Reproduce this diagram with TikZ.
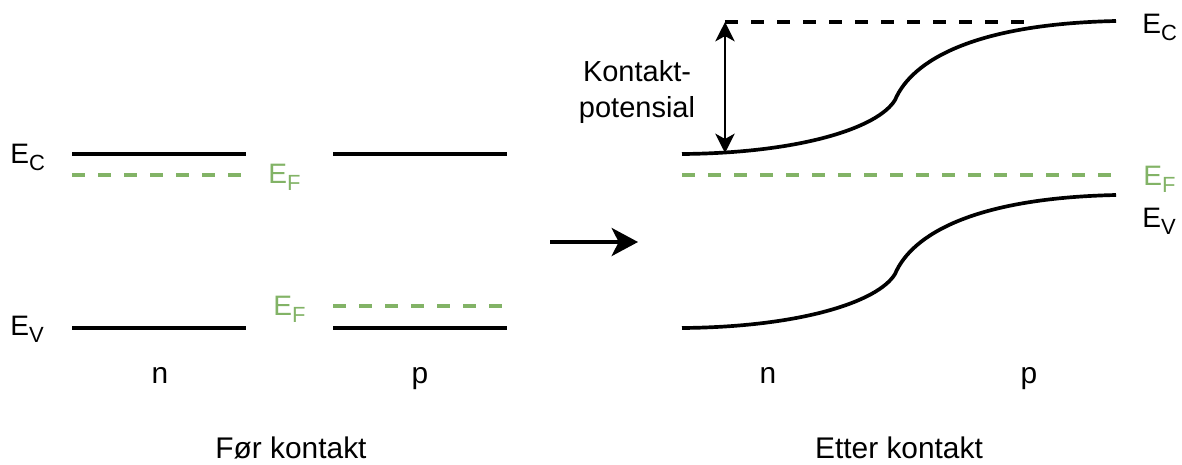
\documentclass[tikz,border=0pt]{standalone}
\usepackage{fontspec}
\setmainfont{Liberation Sans}
\usetikzlibrary{arrows.meta}

\definecolor{fermi}{HTML}{82B366}
\newcommand{\lev}[1]{E\raisebox{-4pt}{\fontsize{12.5}{13}\selectfont #1}}

\begin{document}
\begin{tikzpicture}[x=0.02cm, y=-0.02cm,
    band/.style={line width=2.1pt},
    fermiline/.style={line width=2pt, fermi, dash pattern=on 7.4pt off 7.4pt},
    lvl/.style={inner sep=0pt, anchor=base west, font=\fontsize{16}{19}\selectfont},
    lbl/.style={inner sep=0pt, anchor=base, font=\fontsize{17}{20}\selectfont}]
    \useasboundingbox (0,0) rectangle (1182,464);

    % Before contact: n side
    \draw[band] (72,154) -- (246,154);
    \draw[fermiline] (72,175) -- (246,175);
    \draw[band] (72,328) -- (246,328);
    \node[lvl] (ecL) at (10,163) {\lev{C}};
    \node[lvl] (evL) at (10,335) {\lev{V}};
    \node[lvl, fermi] (efN) at (268,183) {\lev{F}};

    % Before contact: p side
    \draw[band] (333,154) -- (507,154);
    \draw[fermiline] (333,306) -- (507,306);
    \draw[band] (333,328) -- (507,328);
    \node[lvl, fermi] (efP) at (273,315) {\lev{F}};

    \node[lbl] (nL) at (160,383) {n};
    \node[lbl] (pL) at (420,383) {p};
    \node[lbl] (before) at (291,458) {Før kontakt};

    % Transition arrow
    \coordinate (arrS) at (550,242);
    \coordinate (arrE) at (638,242);
    \draw[line width=2pt, -{Stealth[length=15pt, width=16pt, inset=4pt]}] (arrS) -- (arrE);

    % After contact: bent bands
    \draw[band] (682,154) .. controls (800,153) and (878,128) .. (895,100)
        .. controls (912,60) and (975,24) .. (1116,21);
    \draw[band, shift={(0,174)}] (682,154) .. controls (800,153) and (878,128) .. (895,100)
        .. controls (912,60) and (975,24) .. (1116,21);
    \draw[fermiline] (682,175) -- (1112,175);

    % Contact potential
    \coordinate (vTop) at (725,22);
    \coordinate (vBot) at (725,153);
    \draw[line width=2pt, dash pattern=on 7.4pt off 7.4pt] (vTop) -- (1030,22);
    \draw[line width=1.4pt, {Stealth[length=11pt, width=11pt, inset=3pt]}-{Stealth[length=11pt, width=11pt, inset=3pt]}] (vTop) -- (vBot);
    \node[inner sep=0pt, align=center, font=\fontsize{16.5}{20}\selectfont] (kp) at (637,92) {Kontakt-\\potensial};

    \node[lvl] (ecR) at (1142,33) {\lev{C}};
    \node[lvl, fermi] (efR) at (1143,185) {\lev{F}};
    \node[lvl] (evR) at (1142,227) {\lev{V}};

    \node[lbl] (nR) at (768,383) {n};
    \node[lbl] (pR) at (1029,383) {p};
    \node[lbl] (after) at (899,458) {Etter kontakt};
\end{tikzpicture}
\end{document}
